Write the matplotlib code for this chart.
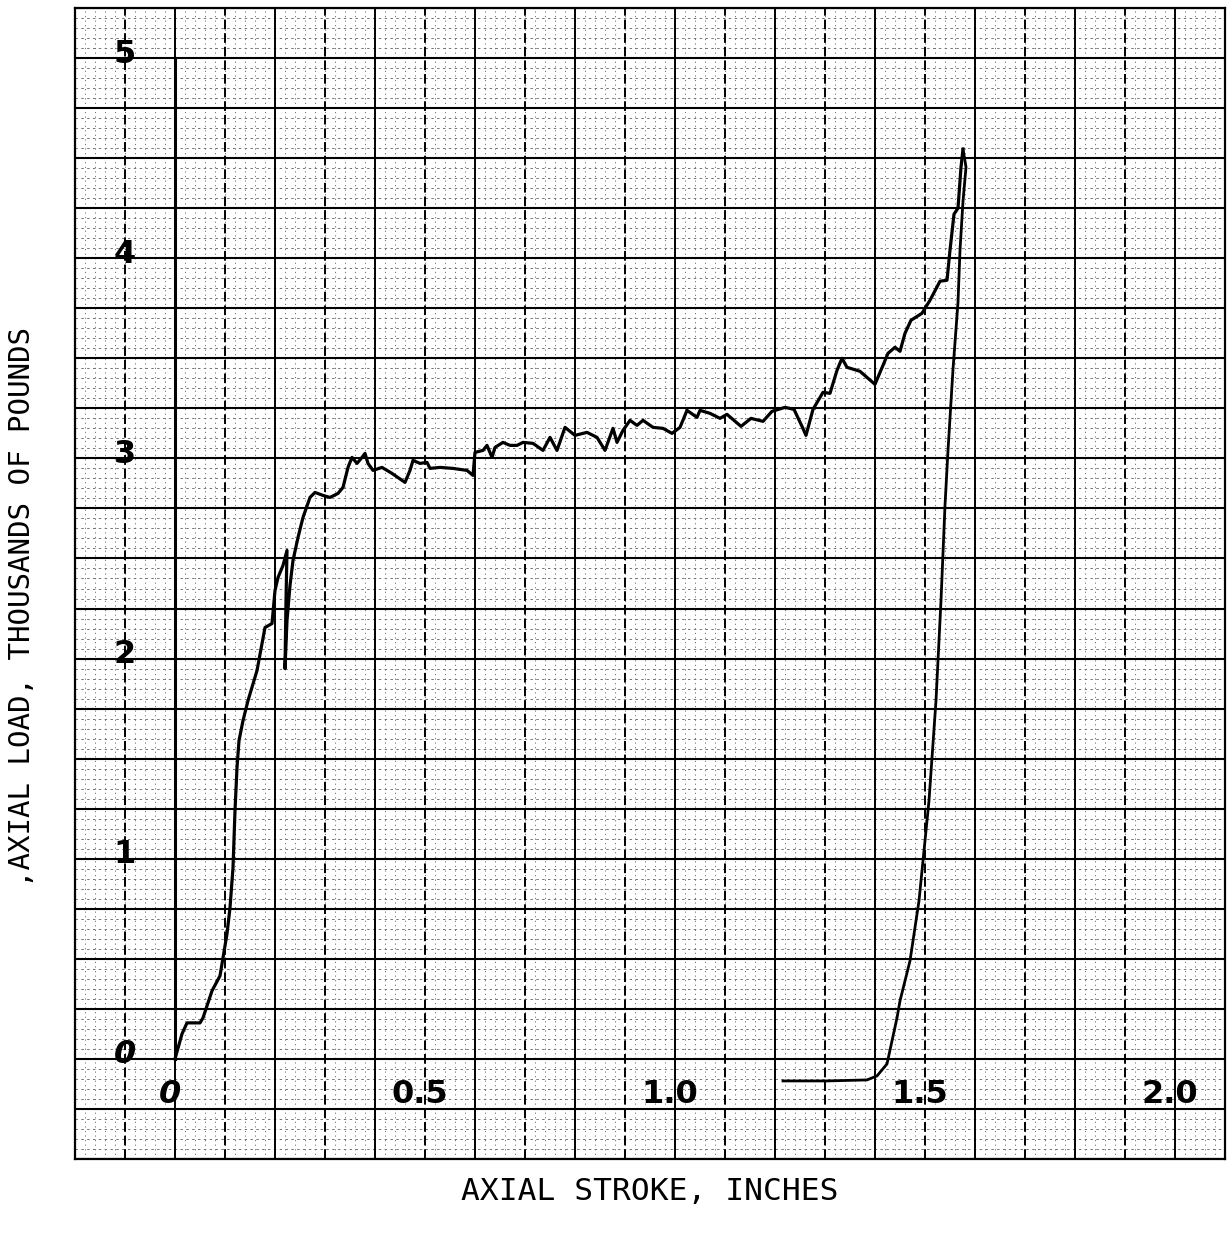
import numpy as np
import matplotlib.pyplot as plt

# axial stroke (in) and axial load (thousands of lb), loading trace
stroke_up = [0.000, 0.014, 0.024, 0.050, 0.056, 0.074, 0.090, 0.096, 0.104, 0.110,
             0.116, 0.120, 0.124, 0.128, 0.136, 0.146, 0.164, 0.180, 0.194, 0.200,
             0.206, 0.216, 0.224, 0.222, 0.220, 0.224, 0.230, 0.236, 0.246, 0.256,
             0.270, 0.280, 0.296, 0.310, 0.326, 0.336, 0.346, 0.354, 0.364, 0.374,
             0.380, 0.386, 0.396, 0.414, 0.434, 0.460, 0.470, 0.476, 0.490, 0.504,
             0.510, 0.530, 0.556, 0.584, 0.596, 0.600, 0.616, 0.624, 0.634, 0.640,
             0.656, 0.670, 0.684, 0.696, 0.716, 0.736, 0.750, 0.764, 0.780, 0.800,
             0.824, 0.844, 0.860, 0.876, 0.884, 0.896, 0.910, 0.924, 0.936, 0.956,
             0.976, 0.994, 1.010, 1.024, 1.044, 1.050, 1.070, 1.090, 1.104, 1.132,
             1.152, 1.176, 1.194, 1.220, 1.238, 1.254, 1.262, 1.276, 1.296, 1.310,
             1.324, 1.334, 1.344, 1.370, 1.400, 1.416, 1.426, 1.440, 1.450, 1.460,
             1.472, 1.494, 1.510, 1.530, 1.544, 1.550, 1.558, 1.566, 1.572, 1.576]
load_up = [0.000, 0.125, 0.180, 0.180, 0.205, 0.340, 0.415, 0.505, 0.625, 0.755,
           0.955, 1.240, 1.455, 1.590, 1.690, 1.790, 1.940, 2.155, 2.175, 2.340,
           2.405, 2.465, 2.540, 2.290, 1.950, 2.190, 2.365, 2.490, 2.605, 2.705,
           2.805, 2.830, 2.815, 2.805, 2.825, 2.855, 2.955, 3.005, 2.975, 3.005,
           3.025, 2.975, 2.940, 2.955, 2.925, 2.880, 2.940, 2.990, 2.975, 2.980,
           2.950, 2.955, 2.950, 2.940, 2.915, 3.030, 3.040, 3.065, 3.005, 3.055,
           3.080, 3.065, 3.065, 3.080, 3.075, 3.040, 3.105, 3.040, 3.155, 3.115,
           3.130, 3.105, 3.040, 3.150, 3.080, 3.140, 3.190, 3.165, 3.190, 3.155,
           3.150, 3.125, 3.155, 3.240, 3.205, 3.240, 3.225, 3.200, 3.220, 3.160,
           3.200, 3.185, 3.235, 3.255, 3.245, 3.160, 3.115, 3.245, 3.330, 3.325,
           3.440, 3.500, 3.455, 3.435, 3.370, 3.465, 3.525, 3.555, 3.535, 3.625,
           3.690, 3.725, 3.790, 3.885, 3.890, 4.040, 4.220, 4.250, 4.455, 4.545]

# unloading trace
stroke_down = [1.576, 1.582, 1.576, 1.570, 1.566, 1.556, 1.546, 1.540, 1.532, 1.522,
               1.508, 1.488, 1.470, 1.450, 1.444, 1.434, 1.424, 1.404, 1.384, 1.304,
               1.216]
load_down = [4.545, 4.455, 4.285, 4.040, 3.780, 3.445, 3.040, 2.765, 2.290, 1.790,
             1.290, 0.790, 0.490, 0.290, 0.205, 0.090, -0.025, -0.085, -0.105, -0.110,
             -0.110]

load_ticks = [0, 1, 2, 3, 4, 5]
stroke_ticks = [0, 0.5, 1.0, 1.5, 2.0]
stroke_labels = ['0', '0.5', '1.0', '1.5', '2.0']

W, H = 1232, 1235
fig = plt.figure(figsize=(W / 100, H / 100), dpi=100)
ax = fig.add_axes([75 / W, 76 / H, 1150 / W, 1151 / H])
ax.set_xlim(-0.2, 2.1)
ax.set_ylim(-0.5, 5.25)
ax.set_xticks([])
ax.set_yticks([])
for s in ax.spines.values():
    s.set_linewidth(1.6)

# graph paper: fine ruling
for x in np.arange(-0.2, 2.1001, 0.02):
    ax.axvline(x, color='0.45', lw=0.7, ls=(0, (1.2, 3.5)), zorder=1)
for y in np.arange(-0.5, 5.2501, 0.05):
    ax.axhline(y, color='0.45', lw=0.7, ls=(0, (2.5, 3.5)), zorder=1)
# heavy ruling
for i, x in enumerate(np.arange(-0.2, 2.1001, 0.1)):
    ax.axvline(x, color='k', lw=1.4, ls='-' if i % 2 == 0 else (0, (5, 2)), zorder=2)
for y in np.arange(-0.5, 5.2501, 0.25):
    ax.axhline(y, color='k', lw=1.5, zorder=2)
ax.plot([0, 0], [0, 5], color='k', lw=2.2, zorder=3)

ax.plot(stroke_up, load_up, color='k', lw=2.3, zorder=4, solid_joinstyle='round')
ax.plot(stroke_down, load_down, color='k', lw=2.0, zorder=4, solid_joinstyle='round')

for v in load_ticks:
    ax.text(-0.1, v + 0.02, str(v), fontsize=23, fontweight='bold', ha='center',
            va='center', style='italic' if v == 0 else 'normal', zorder=5)
for v, lab in zip(stroke_ticks, stroke_labels):
    ax.text(v - 0.01, -0.18, lab, fontsize=23, fontweight='bold', ha='center',
            va='center', style='italic' if v == 0 else 'normal', zorder=5)

fig.text(650 / W, 1 - 1192 / H, 'AXIAL STROKE, INCHES', fontsize=22.5,
         family='DejaVu Sans Mono', ha='center', va='center')
fig.text(22 / W, 1 - 607 / H, ',AXIAL LOAD, THOUSANDS OF POUNDS', fontsize=21,
         family='DejaVu Sans Mono', ha='center', va='center', rotation=90)

fig.savefig('out.png', dpi=100)
